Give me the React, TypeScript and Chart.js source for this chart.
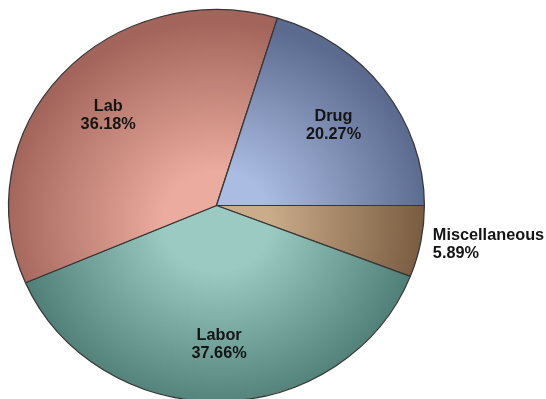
import React, { useEffect, useRef } from "react";
import { Chart, PieController, ArcElement } from "chart.js";

Chart.register(PieController, ArcElement);

// Slices in clockwise order starting at three o'clock
const categories = ["Miscellaneous", "Labor", "Lab", "Drug"];
const shares = [5.89, 37.66, 36.18, 20.27];

// Shading: light near the middle of the pie, darker toward the rim
const lightColors = ["#caab8a", "#9bcac2", "#ebab9e", "#abbce2"];
const darkColors = ["#775a3e", "#4a7971", "#a3655b", "#5b6a8f"];

// The pie is drawn as a slightly wide oval
const STRETCH_X = 208 / 196;
const FONT = "bold 16.3px 'Liberation Sans', Arial, Helvetica, sans-serif";

const ovalPie = {
  id: "ovalPie",
  beforeDatasetsDraw(chart: any) {
    const { ctx, chartArea } = chart;
    const cx = (chartArea.left + chartArea.right) / 2;
    ctx.save();
    ctx.translate(cx, 0);
    ctx.scale(STRETCH_X, 1);
    ctx.translate(-cx, 0);
  },
  afterDatasetsDraw(chart: any) {
    chart.ctx.restore();
  },
};

const sliceLabels = {
  id: "sliceLabels",
  afterDraw(chart: any) {
    const { ctx } = chart;
    const meta = chart.getDatasetMeta(0);
    const lineH = 18;
    ctx.save();
    ctx.font = FONT;
    ctx.fillStyle = "#141414";
    ctx.textBaseline = "middle";
    meta.data.forEach((el: any, i: number) => {
      const { x, y, startAngle, endAngle, outerRadius } = el.getProps(
        ["x", "y", "startAngle", "endAngle", "outerRadius"],
        true
      );
      const mid = (startAngle + endAngle) / 2;
      const lines = [categories[i], shares[i].toFixed(2) + "%"];
      let lx: number;
      let ly: number;
      if (shares[i] < 10) {
        // small slice: label sits outside the rim
        ctx.textAlign = "left";
        lx = x + Math.cos(mid) * outerRadius * STRETCH_X + 12;
        ly = y + Math.sin(mid) * outerRadius + 3;
      } else {
        ctx.textAlign = "center";
        lx = x + Math.cos(mid) * outerRadius * 0.7 * STRETCH_X;
        ly = y + Math.sin(mid) * outerRadius * 0.7 + 1.5;
      }
      lines.forEach((t, k) => ctx.fillText(t, lx, ly + (k - 0.5) * lineH));
    });
    ctx.restore();
  },
};

export default function App() {
  const canvasRef = useRef<HTMLCanvasElement>(null);

  useEffect(() => {
    const canvas = canvasRef.current;
    if (!canvas) return;
    const chart = new Chart(canvas, {
      type: "pie",
      data: {
        labels: categories,
        datasets: [
          {
            data: shares,
            backgroundColor: (c: any) => {
              const i = c.dataIndex ?? 0;
              const area = c.chart.chartArea;
              if (!area) return lightColors[i];
              const cx = (area.left + area.right) / 2;
              const cy = (area.top + area.bottom) / 2;
              const r = Math.min(area.width, area.height) / 2;
              const g = c.chart.ctx.createRadialGradient(cx, cy + r * 0.08, 0, cx, cy + r * 0.08, r * 1.02);
              g.addColorStop(0, lightColors[i]);
              g.addColorStop(0.25, lightColors[i]);
              g.addColorStop(1, darkColors[i]);
              return g;
            },
            borderColor: "#363636",
            borderWidth: 1.2,
            clip: false,
          } as any,
        ],
      },
      options: {
        responsive: false,
        animation: false,
        rotation: 90,
        layout: { padding: { left: 20, right: 133, top: 9, bottom: 18 } },
        plugins: { legend: { display: false }, tooltip: { enabled: false } } as any,
        events: [],
      },
      plugins: [ovalPie, sliceLabels],
    });
    return () => chart.destroy();
  }, []);

  return (
    <div
      style={{
        position: "fixed",
        left: 0,
        top: 0,
        width: 546,
        height: 399,
        overflow: "hidden",
        background: "#ffffff",
      }}
    >
      <canvas ref={canvasRef} width={546} height={420} style={{ display: "block" }} />
    </div>
  );
}
